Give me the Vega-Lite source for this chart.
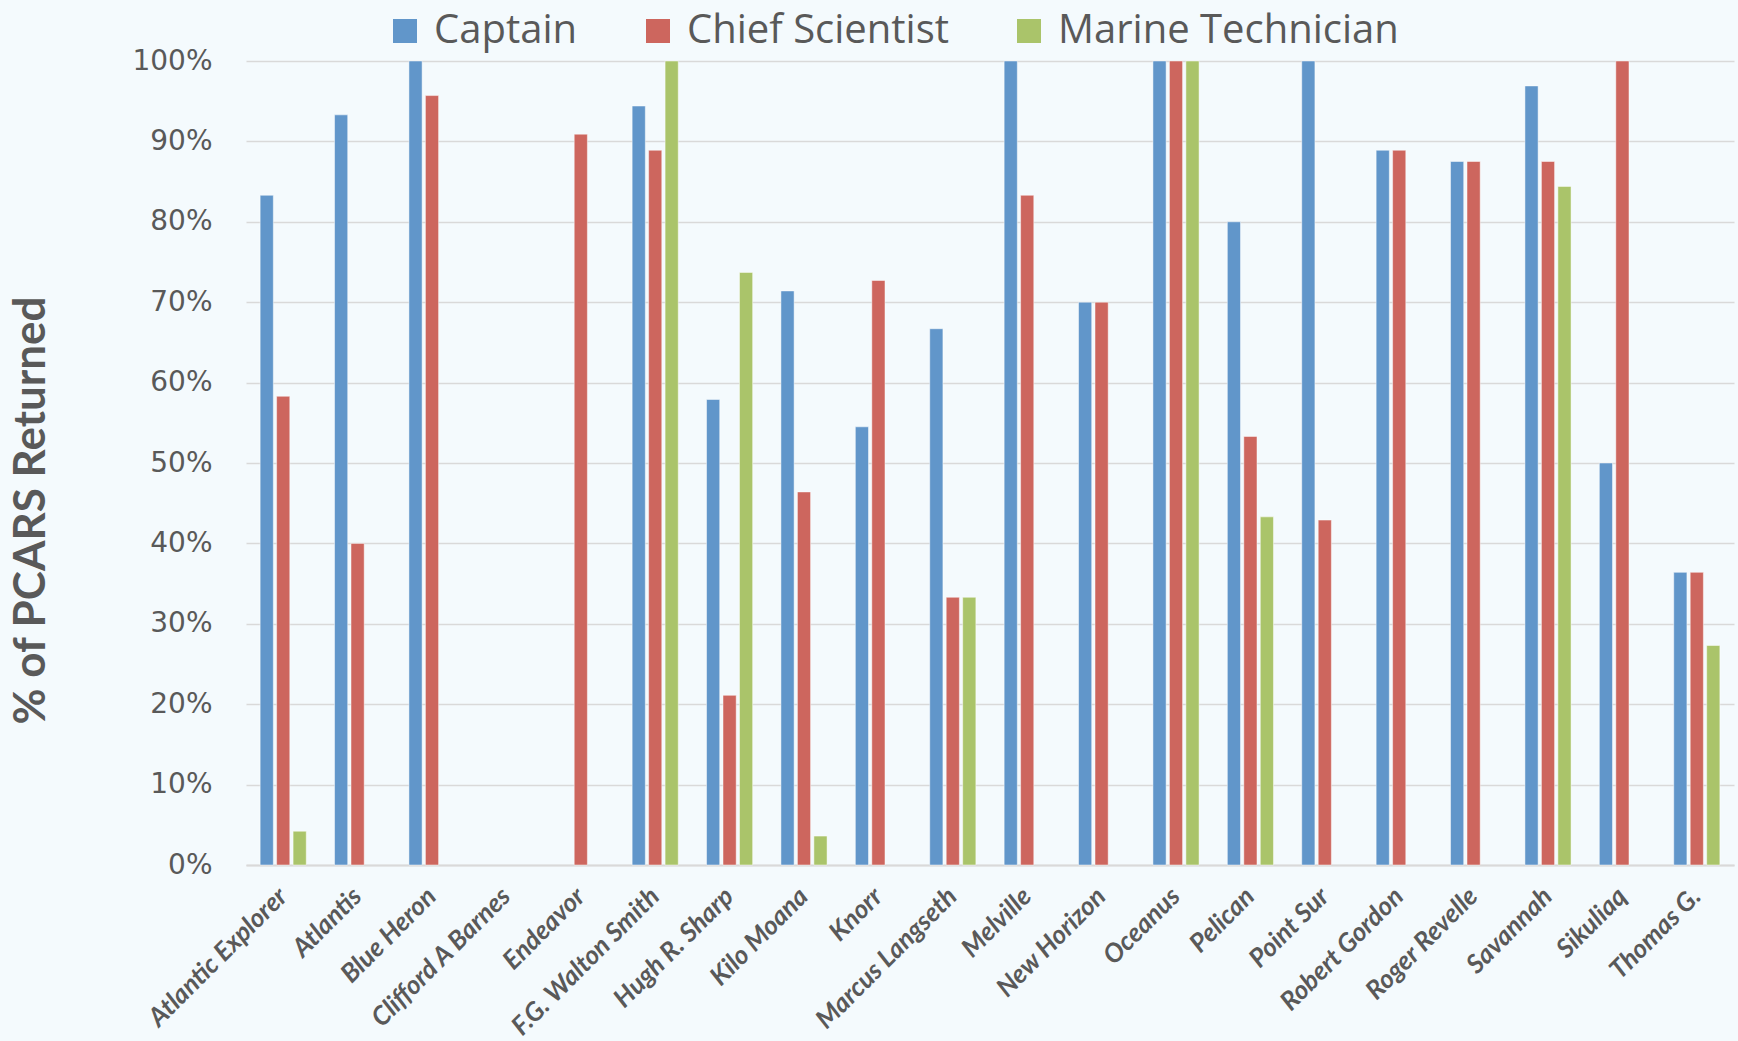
{
  "$schema": "https://vega.github.io/schema/vega-lite/v6.json",
  "autosize": "none",
  "width": 1488,
  "height": 804,
  "padding": {"left": 246, "top": 61, "right": 4, "bottom": 176},
  "background": "#F4FAFD",
  "config": {"view": {"stroke": null}},
  "data": {"values": [
    {"ship": "Atlantic Explorer", "role": "Captain", "value": 0.833},
    {"ship": "Atlantic Explorer", "role": "Chief Scientist", "value": 0.583},
    {"ship": "Atlantic Explorer", "role": "Marine Technician", "value": 0.042},
    {"ship": "Atlantis", "role": "Captain", "value": 0.933},
    {"ship": "Atlantis", "role": "Chief Scientist", "value": 0.4},
    {"ship": "Blue Heron", "role": "Captain", "value": 1.0},
    {"ship": "Blue Heron", "role": "Chief Scientist", "value": 0.957},
    {"ship": "Endeavor", "role": "Chief Scientist", "value": 0.909},
    {"ship": "F.G. Walton Smith", "role": "Captain", "value": 0.944},
    {"ship": "F.G. Walton Smith", "role": "Chief Scientist", "value": 0.889},
    {"ship": "F.G. Walton Smith", "role": "Marine Technician", "value": 1.0},
    {"ship": "Hugh R. Sharp", "role": "Captain", "value": 0.579},
    {"ship": "Hugh R. Sharp", "role": "Chief Scientist", "value": 0.211},
    {"ship": "Hugh R. Sharp", "role": "Marine Technician", "value": 0.737},
    {"ship": "Kilo Moana", "role": "Captain", "value": 0.714},
    {"ship": "Kilo Moana", "role": "Chief Scientist", "value": 0.464},
    {"ship": "Kilo Moana", "role": "Marine Technician", "value": 0.036},
    {"ship": "Knorr", "role": "Captain", "value": 0.545},
    {"ship": "Knorr", "role": "Chief Scientist", "value": 0.727},
    {"ship": "Marcus Langseth", "role": "Captain", "value": 0.667},
    {"ship": "Marcus Langseth", "role": "Chief Scientist", "value": 0.333},
    {"ship": "Marcus Langseth", "role": "Marine Technician", "value": 0.333},
    {"ship": "Melville", "role": "Captain", "value": 1.0},
    {"ship": "Melville", "role": "Chief Scientist", "value": 0.833},
    {"ship": "New Horizon", "role": "Captain", "value": 0.7},
    {"ship": "New Horizon", "role": "Chief Scientist", "value": 0.7},
    {"ship": "Oceanus", "role": "Captain", "value": 1.0},
    {"ship": "Oceanus", "role": "Chief Scientist", "value": 1.0},
    {"ship": "Oceanus", "role": "Marine Technician", "value": 1.0},
    {"ship": "Pelican", "role": "Captain", "value": 0.8},
    {"ship": "Pelican", "role": "Chief Scientist", "value": 0.533},
    {"ship": "Pelican", "role": "Marine Technician", "value": 0.433},
    {"ship": "Point Sur", "role": "Captain", "value": 1.0},
    {"ship": "Point Sur", "role": "Chief Scientist", "value": 0.429},
    {"ship": "Robert Gordon", "role": "Captain", "value": 0.889},
    {"ship": "Robert Gordon", "role": "Chief Scientist", "value": 0.889},
    {"ship": "Roger Revelle", "role": "Captain", "value": 0.875},
    {"ship": "Roger Revelle", "role": "Chief Scientist", "value": 0.875},
    {"ship": "Savannah", "role": "Captain", "value": 0.969},
    {"ship": "Savannah", "role": "Chief Scientist", "value": 0.875},
    {"ship": "Savannah", "role": "Marine Technician", "value": 0.844},
    {"ship": "Sikuliaq", "role": "Captain", "value": 0.5},
    {"ship": "Sikuliaq", "role": "Chief Scientist", "value": 1.0},
    {"ship": "Thomas G.", "role": "Captain", "value": 0.364},
    {"ship": "Thomas G.", "role": "Chief Scientist", "value": 0.364},
    {"ship": "Thomas G.", "role": "Marine Technician", "value": 0.273}
  ]},
  "mark": {"type": "bar", "stroke": "#FFFFFF", "strokeWidth": 0.8, "strokeOpacity": 0.6},
  "encoding": {
    "x": {
      "field": "ship", "type": "nominal",
      "scale": {
        "domain": ["Atlantic Explorer", "Atlantis", "Blue Heron", "Clifford A Barnes", "Endeavor", "F.G. Walton Smith", "Hugh R. Sharp", "Kilo Moana", "Knorr", "Marcus Langseth", "Melville", "New Horizon", "Oceanus", "Pelican", "Point Sur", "Robert Gordon", "Roger Revelle", "Savannah", "Sikuliaq", "Thomas G."],
        "paddingInner": 0.38, "paddingOuter": 0.19
      },
      "axis": {
        "title": null,
        "labelAngle": -45,
        "labelAlign": "right",
        "labelBaseline": "middle",
        "labelFont": "Lato",
        "labelFontWeight": "bold",
        "labelFontStyle": "italic",
        "labelFontSize": 26,
        "labelColor": "#595959",
        "labelPadding": 27,
        "labelLimit": 400,
        "ticks": false,
        "domainColor": "#D9D9D9",
        "domainWidth": 2,
        "grid": false
      }
    },
    "xOffset": {
      "field": "role", "type": "nominal",
      "scale": {"domain": ["Captain", "Chief Scientist", "Marine Technician"], "paddingInner": 0.2, "paddingOuter": 0}
    },
    "y": {
      "field": "value", "type": "quantitative",
      "scale": {"domain": [0, 1], "nice": false},
      "axis": {
        "title": "% of PCARS Returned",
        "titleFont": "Lato",
        "titleFontWeight": "bold",
        "titleFontSize": 44,
        "titleColor": "#595959",
        "titleAngle": -90,
        "titleX": -215,
        "titleY": 449,
        "titleAlign": "center",
        "titleBaseline": "middle",
        "values": [0, 0.1, 0.2, 0.3, 0.4, 0.5, 0.6, 0.7, 0.8, 0.9, 1.0],
        "format": ".0%",
        "labelFont": "DejaVu Sans",
        "labelFontSize": 28,
        "labelColor": "#595959",
        "labelPadding": 34,
        "ticks": false,
        "domain": false,
        "gridColor": "#D9D9D9",
        "gridWidth": 1.5
      }
    },
    "color": {
      "field": "role", "type": "nominal",
      "scale": {"domain": ["Captain", "Chief Scientist", "Marine Technician"], "range": ["#6196CA", "#CD665E", "#AAC46A"]},
      "legend": {
        "title": null,
        "orient": "none",
        "direction": "horizontal",
        "legendX": 139,
        "legendY": -50,
        "symbolType": "square",
        "symbolSize": 576,
        "symbolStrokeWidth": 0,
        "symbolOpacity": 1,
        "labelFont": "Open Sans",
        "labelFontSize": 40,
        "labelColor": "#595959",
        "labelOffset": 9,
        "columnPadding": 60,
        "labelLimit": 600
      }
    }
  }
}
